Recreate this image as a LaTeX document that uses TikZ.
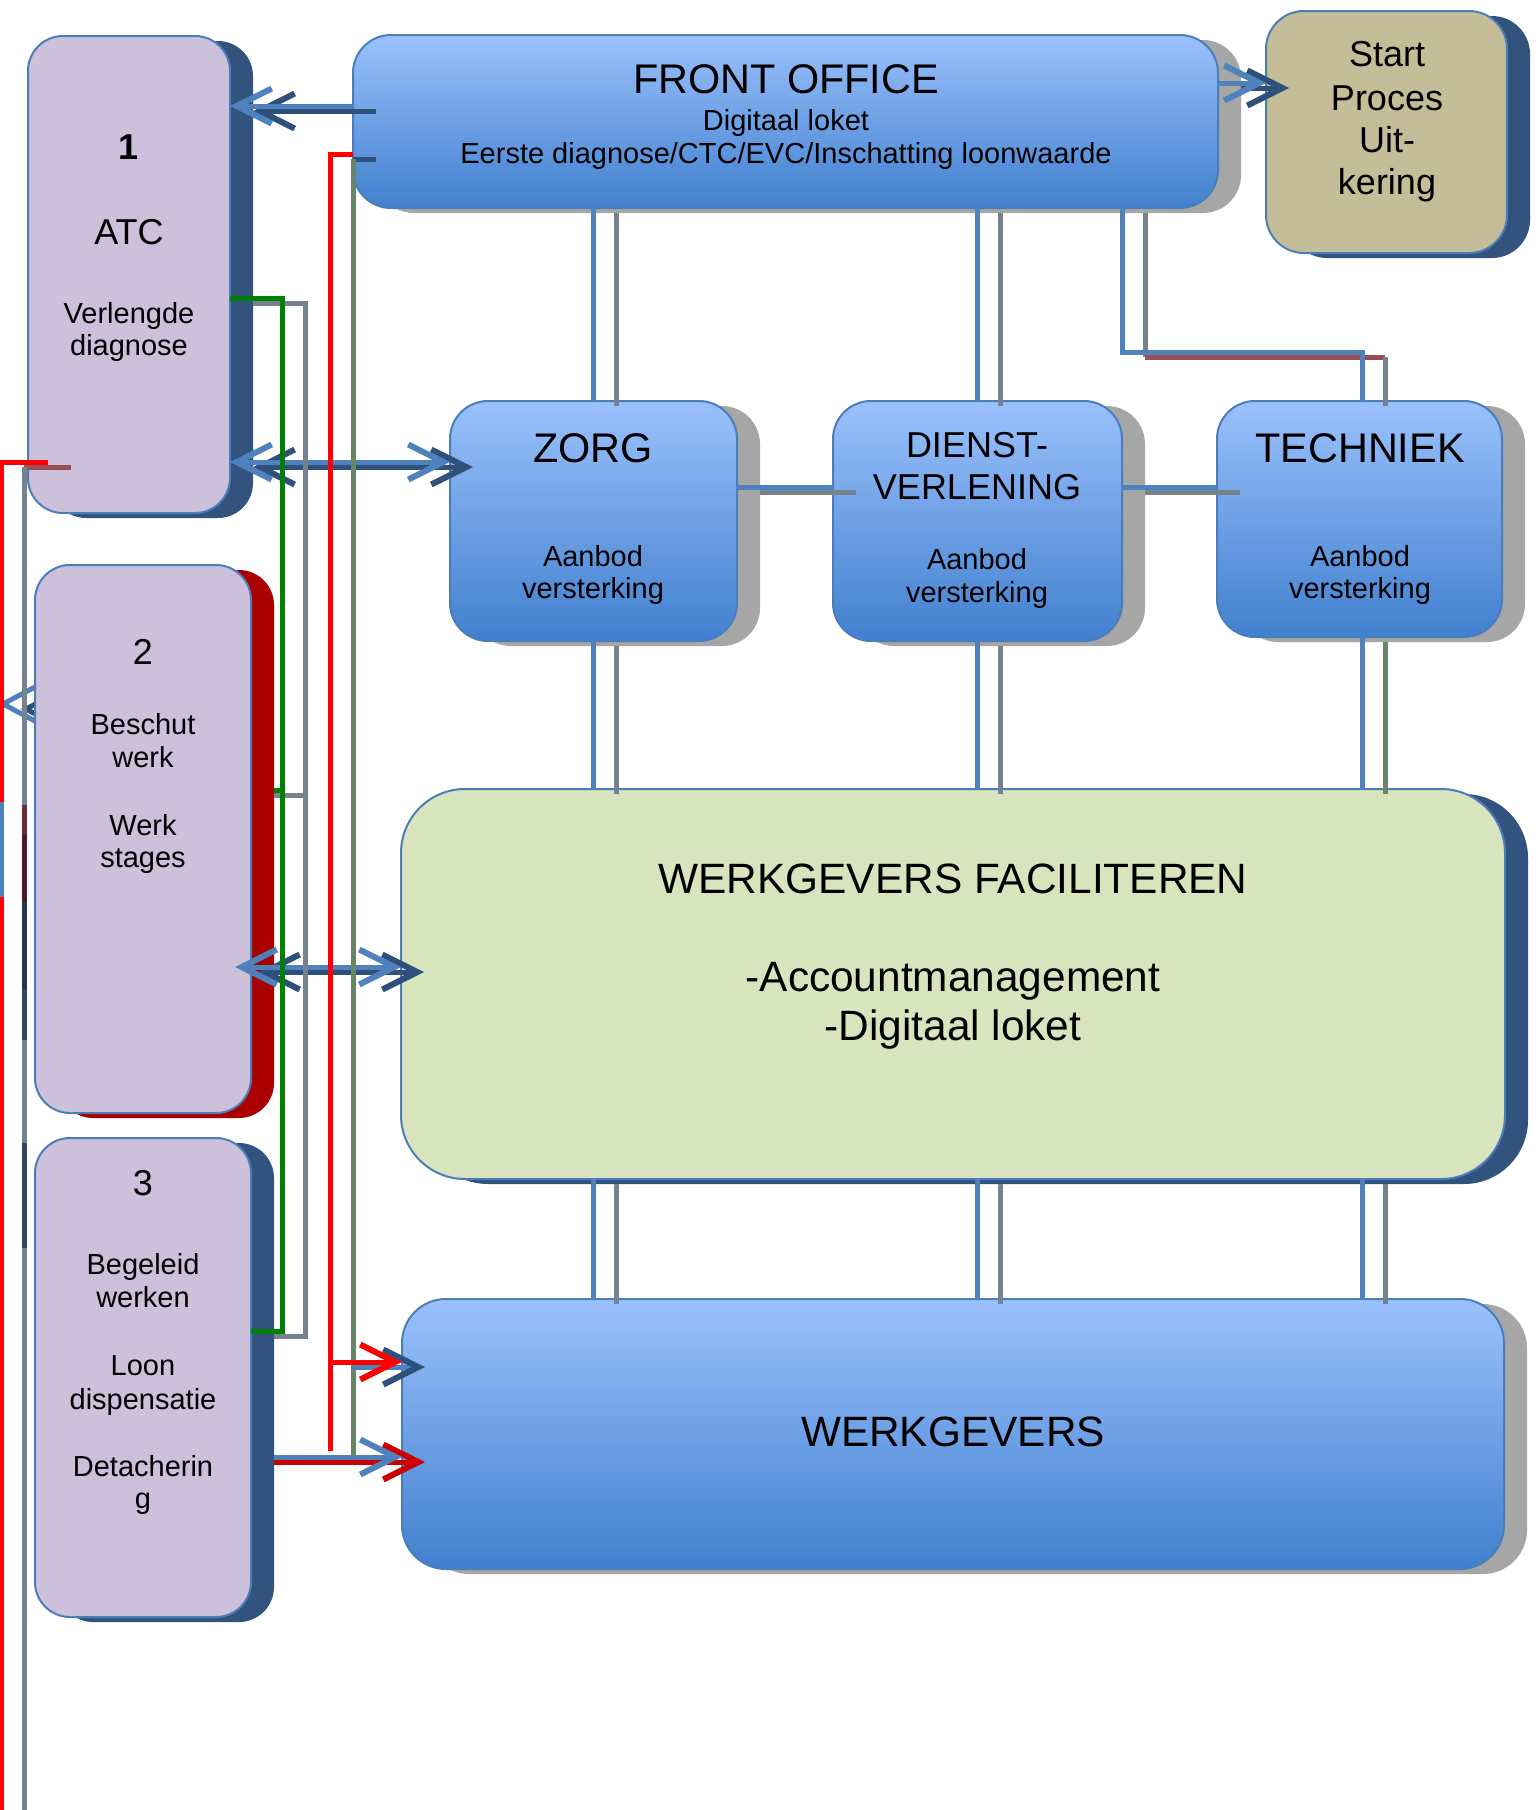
\documentclass[tikz,border=0pt]{standalone}
\usepackage{fontspec}
\setmainfont{Liberation Sans}
\usetikzlibrary{arrows.meta,shadows,fit}
\definecolor{lav}{RGB}{204,192,218}
\definecolor{bord}{RGB}{74,126,187}
\definecolor{cblue}{RGB}{79,129,189}
\definecolor{navyS}{RGB}{50,83,125}
\definecolor{greyS}{RGB}{166,166,166}
\definecolor{redS}{RGB}{170,0,0}
\definecolor{btop}{RGB}{155,193,252}
\definecolor{bbot}{RGB}{65,128,207}
\definecolor{wfc}{RGB}{216,228,189}
\definecolor{stc}{RGB}{196,189,151}
\definecolor{slate}{RGB}{119,130,143}
\definecolor{darkA}{RGB}{47,80,122}
\definecolor{ggreen}{RGB}{102,134,102}
\definecolor{brownS}{RGB}{150,80,84}
\definecolor{lgreen}{RGB}{0,128,0}
\definecolor{rred}{RGB}{255,0,0}
\definecolor{shred}{RGB}{204,0,0}
\definecolor{segA}{RGB}{107,45,58}
\definecolor{segB}{RGB}{74,26,37}
\definecolor{segC}{RGB}{37,55,80}
\definecolor{segD}{RGB}{47,69,96}
\newcommand\fsz[1]{\fontsize{#1}{#1}\selectfont}
\tikzset{
  box/.style={draw=bord, line width=1pt, inner sep=0pt, outer sep=0pt, rounded corners=17.5pt},
  lavbox/.style={box, fill=lav},
  bluebox/.style={box, top color=btop, bottom color=bbot},
  shN/.style={general shadow={shadow xshift=11.5pt, shadow yshift=-2.5pt, fill=navyS}},
  shG/.style={general shadow={shadow xshift=11.5pt, shadow yshift=-2.5pt, fill=greyS}},
  shR/.style={general shadow={shadow xshift=11.5pt, shadow yshift=-2.5pt, fill=redS}},
  sh/.style={transform canvas={xshift=11.5pt, yshift=-2.5pt}},
  ln/.style={line width=2.5pt},
  tx/.style={anchor=base, inner sep=0pt, outer sep=0pt},
  fA/.style={font=\fsz{14.5}},
  fB/.style={font=\fsz{18}},
  fC/.style={font=\fsz{20.7}},
  fD/.style={font=\fsz{21.2}},
  >={Straight Barb[length=17.5pt,width=17.5pt,line width=3pt]},
}
\begin{document}
\begin{tikzpicture}[x=0.5pt,y=-0.5pt]
\useasboundingbox (0,0) rectangle (1540,1810);
% helper levels
\coordinate (yA) at (0,106);
\coordinate (yS) at (0,83);
\coordinate (yB) at (0,154);
\coordinate (yG1) at (0,298);
\coordinate (yG2) at (0,790);
\coordinate (yG3) at (0,1331);
\coordinate (yT) at (0,352);
\coordinate (yE) at (0,462);
\coordinate (yH) at (0,487);
\coordinate (yL) at (0,704);
\coordinate (yL1) at (0,687);
\coordinate (yL2) at (0,721);
\coordinate (yF) at (0,967);
\coordinate (yC) at (0,1362);
\coordinate (yEnd) at (0,1451);
\coordinate (yD) at (0,1457);
\coordinate (yBot) at (0,1820);
\coordinate (xG) at (282,0);
\coordinate (xR) at (330,0);
\coordinate (xL) at (1,0);
\coordinate (xRL) at (48,0);
\coordinate (xTip) at (235,0);
\coordinate (xS3) at (274,0);
\coordinate (xLt) at (3,0);
\coordinate (xZ) at (593,0);
\coordinate (xD) at (977,0);
\coordinate (xT) at (1362,0);
\coordinate (xFT) at (1122,0);

% shadow of the small left chevron (partly behind box 2)
\draw[ln, darkA, sh] (35,687) -- (3,704) -- (35,721);

% boxes
\node[lavbox, shN, fit={(28,36) (230,513)}] (b1) {};
\node[lavbox, shR, fit={(35,565) (251,1113)}] (b2) {};
\node[lavbox, shN, fit={(35,1138) (251,1617)}] (b3) {};
\node[bluebox, shG, rounded corners=19pt, fit={(353,35) (1218,208)}] (fo) {};
\node[box, fill=stc, shN, rounded corners=19pt, fit={(1266,11) (1507,253)}] (st) {};
\node[bluebox, shG, rounded corners=19pt, fit={(450,401) (737,641)}] (zorg) {};
\node[bluebox, shG, rounded corners=19pt, fit={(833,401) (1122,641)}] (dienst) {};
\node[bluebox, shG, rounded corners=19pt, fit={(1217,401) (1502,637)}] (tech) {};
\node[box, fill=wfc, shN, rounded corners=32pt, fit={(401,789) (1505,1179)}] (wf) {};
\node[bluebox, shG, rounded corners=22pt, fit={(402,1299) (1504,1569)}] (wg) {};

% horizontal arrows: shadows
\draw[ln, darkA, ->, sh] (fo.west |- yA) -- (b1.east |- yA);
\draw[ln, darkA, <->, sh] (b1.east |- yE) -- (zorg.west |- yE);
\draw[ln, darkA, <->, sh] (xTip |- yF) -- (wf.west |- yF);
\draw[ln, darkA, ->, sh] (fo.east |- yS) -- (st.west |- yS);
\draw[ln, shred, ->, sh] (b3.east |- yD) -- (wg.west |- yD);
% horizontal arrows: mains
\draw[ln, cblue, ->] (fo.west |- yA) -- (b1.east |- yA);
\draw[ln, cblue, <->] (b1.east |- yE) -- (zorg.west |- yE);
\draw[ln, cblue, <->] (xTip |- yF) -- (wf.west |- yF);
\draw[ln, cblue, ->] (fo.east |- yS) -- (st.west |- yS);
\draw[ln, cblue, ->] (xS3 |- yD) -- (wg.west |- yD);
\draw[ln, cblue] (b2.west |- yL1) -- (xLt |- yL) -- (b2.west |- yL2);

% links between the blue boxes: shadows
\draw[ln, slate, sh] (fo.south -| xZ) -- (zorg.north -| xZ);
\draw[ln, slate, sh] (fo.south -| xD) -- (dienst.north -| xD);
\draw[ln, slate, sh] (zorg.south -| xZ) -- (wf.north -| xZ);
\draw[ln, slate, sh] (dienst.south -| xD) -- (wf.north -| xD);
\draw[ln, ggreen, sh] (tech.south -| xT) -- (wf.north -| xT);
\draw[ln, slate, sh] (wf.south -| xZ) -- (wg.north -| xZ);
\draw[ln, slate, sh] (wf.south -| xD) -- (wg.north -| xD);
\draw[ln, slate, sh] (wf.south -| xT) -- (wg.north -| xT);
\draw[ln, slate, sh] (zorg.east |- yH) -- (dienst.west |- yH);
\draw[ln, slate, sh] (dienst.east |- yH) -- (tech.west |- yH);
\draw[ln, slate, sh] (fo.south -| xFT) -- (xFT |- yT);
\draw[ln, brownS, sh] (xFT |- yT) -- (xT |- yT);
\draw[ln, slate, sh] (xT |- yT) -- (tech.north -| xT);
% links between the blue boxes: mains
\draw[ln, cblue] (fo.south -| xZ) -- (zorg.north -| xZ);
\draw[ln, cblue] (fo.south -| xD) -- (dienst.north -| xD);
\draw[ln, cblue] (zorg.south -| xZ) -- (wf.north -| xZ);
\draw[ln, cblue] (dienst.south -| xD) -- (wf.north -| xD);
\draw[ln, cblue] (tech.south -| xT) -- (wf.north -| xT);
\draw[ln, cblue] (wf.south -| xZ) -- (wg.north -| xZ);
\draw[ln, cblue] (wf.south -| xD) -- (wg.north -| xD);
\draw[ln, cblue] (wf.south -| xT) -- (wg.north -| xT);
\draw[ln, cblue] (zorg.east |- yH) -- (dienst.west |- yH);
\draw[ln, cblue] (dienst.east |- yH) -- (tech.west |- yH);
\draw[ln, cblue] (fo.south -| xFT) |- (xT |- yT) -- (tech.north -| xT);

% green bus
\draw[ln, slate, sh] (b1.east |- yG1) -| (xG |- yG3) -- (b3.east |- yG3);
\draw[ln, slate, sh] (xG |- yG2) -- (b2.east |- yG2);
\draw[ln, lgreen] (b1.east |- yG1) -| (xG |- yG3) -- (b3.east |- yG3);
\draw[ln, lgreen] (xG |- yG2) -- (xS3 |- yG2);

% red line from front office
\draw[ln, darkA, sh] (fo.west |- yB) -- (xR |- yB);
\draw[ln, ggreen, sh] (xR |- yB) -- (xR |- yEnd);
\draw[ln, cblue, sh, -{Straight Barb[length=17.5pt,width=17.5pt,line width=3pt,color=darkA]}] (xR |- yC) -- (wg.west |- yC);
\draw[ln, rred] (fo.west |- yB) -| (xR |- yEnd);
\draw[ln, rred, ->] (xR |- yC) -- (wg.west |- yC);

% red line on the far left
\draw[ln, brownS, sh] (xRL |- yE) -- (xL |- yE);
\draw[ln, slate, sh] (xL |- yE) -- (xL |- yBot);
\draw[ln, rred] (xRL |- yE) -| (xL |- yBot);
\draw[ln, cblue] (1,802) -- (1,897);
\draw[ln, segA] (24,805) -- (24,835);
\draw[ln, segB] (24,835) -- (24,902);
\draw[ln, segC] (24,902) -- (24,989);
\draw[ln, segD] (24,989) -- (24,1040);
\draw[ln, segD] (24,1143) -- (24,1248);

% texts box 1
\node[tx, font=\bfseries\fsz{18}] (t1a) at (129,159) {1};
\node[tx, fB] (t1b) at (129,244) {ATC};
\node[tx, fA] (t1c) at (129,323) {Verlengde};
\node[tx, fA] (t1d) at (129,355) {diagnose};
% box 2
\node[tx, fB] (t2a) at (143,664) {2};
\node[tx, fA] (t2b) at (143,734) {Beschut};
\node[tx, fA] (t2c) at (143,767) {werk};
\node[tx, fA] (t2d) at (143,835) {Werk};
\node[tx, fA] (t2e) at (143,867) {stages};
% box 3
\node[tx, fB] (t3a) at (143,1195) {3};
\node[tx, fA] (t3b) at (143,1274) {Begeleid};
\node[tx, fA] (t3c) at (143,1307) {werken};
\node[tx, fA] (t3d) at (143,1375) {Loon};
\node[tx, fA] (t3e) at (143,1409) {dispensatie};
\node[tx, fA] (t3f) at (143,1476) {Detacherin};
\node[tx, fA] (t3g) at (143,1508) {g};
% front office
\node[tx, fC] (tfa) at (786,93) {FRONT OFFICE};
\node[tx, fA] (tfb) at (786,130) {Digitaal loket};
\node[tx, fA] (tfc) at (786,163) {Eerste diagnose/CTC/EVC/Inschatting loonwaarde};
% start
\node[tx, fB] (tsa) at (1387,66) {Start};
\node[tx, fB] (tsb) at (1387,110) {Proces};
\node[tx, fB] (tsc) at (1387,152) {Uit-};
\node[tx, fB] (tsd) at (1387,194) {kering};
% zorg
\node[tx, fC] (tza) at (593,462) {ZORG};
\node[tx, fA] (tzb) at (593,566) {Aanbod};
\node[tx, fA] (tzc) at (593,598) {versterking};
% dienstverlening
\node[tx, fB] (tda) at (977,457) {DIENST-};
\node[tx, fB] (tdb) at (977,499) {VERLENING};
\node[tx, fA] (tdc) at (977,569) {Aanbod};
\node[tx, fA] (tdd) at (977,602) {versterking};
% techniek
\node[tx, fC] (tta) at (1360,462) {TECHNIEK};
\node[tx, fA] (ttb) at (1360,566) {Aanbod};
\node[tx, fA] (ttc) at (1360,598) {versterking};
% werkgevers faciliteren
\node[tx, fD] (twa) at (953,893) {WERKGEVERS FACILITEREN};
\node[tx, fD] (twb) at (953,991) {-Accountmanagement};
\node[tx, fD] (twc) at (953,1040) {-Digitaal loket};
% werkgevers
\node[tx, fD] (tga) at (953,1446) {WERKGEVERS};
\end{tikzpicture}
\end{document}
